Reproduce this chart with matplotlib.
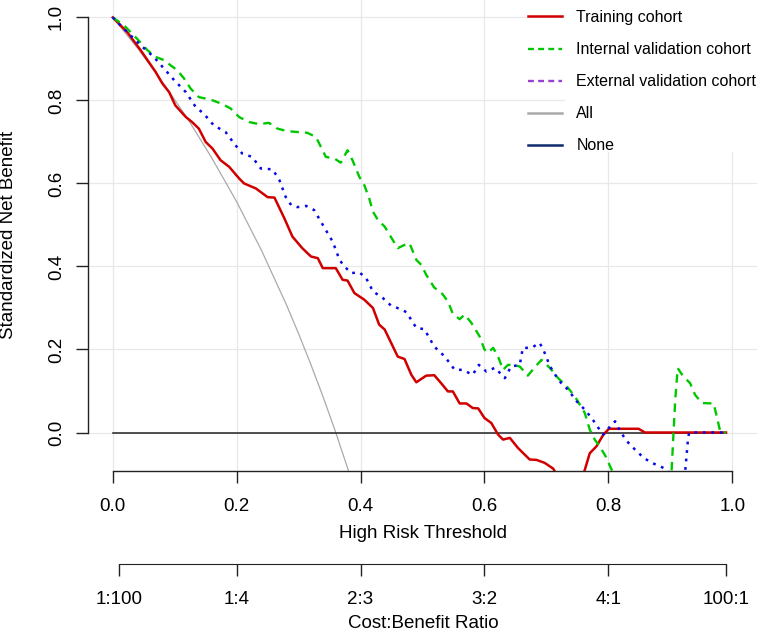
import matplotlib
matplotlib.use('Agg')
import matplotlib.pyplot as plt
from matplotlib.lines import Line2D
from matplotlib.patches import Rectangle

plt.rcParams['font.family'] = ['Liberation Sans', 'DejaVu Sans']

# Decision curve values (threshold, standardized net benefit)
train_t = [0, 0.023, 0.045, 0.069, 0.080, 0.091, 0.101, 0.118, 0.128, 0.139, 0.150, 0.161,
           0.174, 0.188, 0.204, 0.212, 0.231, 0.250, 0.261, 0.277, 0.290, 0.306, 0.320, 0.331,
           0.339, 0.360, 0.371, 0.379, 0.390, 0.406, 0.420, 0.430, 0.439, 0.460, 0.471, 0.482,
           0.490, 0.506, 0.519, 0.530, 0.541, 0.549, 0.560, 0.571, 0.581, 0.590, 0.600, 0.611,
           0.622, 0.630, 0.641, 0.654, 0.673, 0.684, 0.697, 0.711, 0.720, 0.730, 0.740, 0.750,
           0.761, 0.770, 0.781, 0.792, 0.801, 0.849, 0.859, 0.99]
train_v = [1, 0.965, 0.921, 0.869, 0.841, 0.820, 0.788, 0.760, 0.748, 0.732, 0.700, 0.684,
           0.656, 0.640, 0.612, 0.600, 0.588, 0.567, 0.566, 0.516, 0.472, 0.444, 0.424, 0.420,
           0.396, 0.396, 0.368, 0.366, 0.336, 0.320, 0.300, 0.260, 0.248, 0.183, 0.177, 0.139,
           0.121, 0.137, 0.138, 0.119, 0.099, 0.099, 0.070, 0.070, 0.059, 0.058, 0.035, 0.023,
           -0.005, -0.017, -0.013, -0.037, -0.065, -0.066, -0.073, -0.087, -0.11, -0.13, -0.14,
           -0.12, -0.095, -0.050, -0.033, -0.005, 0.009, 0.009, 0, 0]

internal_t = [0, 0.018, 0.039, 0.056, 0.069, 0.083, 0.093, 0.104, 0.115, 0.126, 0.139, 0.158,
              0.174, 0.190, 0.204, 0.220, 0.236, 0.252, 0.266, 0.282, 0.298, 0.314, 0.328, 0.336,
              0.344, 0.358, 0.368, 0.379, 0.387, 0.398, 0.406, 0.414, 0.420, 0.428, 0.439, 0.447,
              0.460, 0.471, 0.479, 0.490, 0.498, 0.506, 0.519, 0.530, 0.541, 0.549, 0.560, 0.568,
              0.579, 0.592, 0.600, 0.606, 0.614, 0.622, 0.630, 0.638, 0.646, 0.657, 0.670, 0.680,
              0.692, 0.706, 0.719, 0.733, 0.746, 0.754, 0.762, 0.770, 0.778, 0.786, 0.797, 0.805,
              0.83, 0.86, 0.89, 0.902, 0.908, 0.912, 0.921, 0.932, 0.940, 0.951, 0.970, 0.975,
              0.981, 0.99]
internal_v = [1, 0.981, 0.949, 0.921, 0.905, 0.897, 0.885, 0.873, 0.853, 0.828, 0.808, 0.802,
              0.793, 0.781, 0.760, 0.748, 0.743, 0.746, 0.732, 0.726, 0.724, 0.722, 0.712, 0.688,
              0.664, 0.660, 0.650, 0.680, 0.656, 0.616, 0.596, 0.564, 0.532, 0.512, 0.496, 0.476,
              0.444, 0.452, 0.456, 0.416, 0.404, 0.380, 0.349, 0.338, 0.316, 0.286, 0.273, 0.284,
              0.264, 0.232, 0.200, 0.192, 0.204, 0.183, 0.151, 0.163, 0.163, 0.159, 0.137, 0.155,
              0.175, 0.155, 0.131, 0.111, 0.087, 0.067, 0.047, 0.007, -0.017, -0.033, -0.061,
              -0.089, -0.12, -0.15, -0.13, -0.095, 0.079, 0.155, 0.135, 0.119, 0.091, 0.071,
              0.070, 0.039, 0, 0]

external_t = [0, 0.023, 0.045, 0.066, 0.085, 0.099, 0.118, 0.134, 0.147, 0.163, 0.182, 0.196,
              0.209, 0.225, 0.239, 0.258, 0.269, 0.279, 0.288, 0.298, 0.312, 0.325, 0.336, 0.347,
              0.355, 0.366, 0.374, 0.385, 0.398, 0.409, 0.420, 0.436, 0.449, 0.463, 0.474, 0.490,
              0.503, 0.519, 0.536, 0.552, 0.565, 0.581, 0.591, 0.603, 0.617, 0.633, 0.643, 0.657,
              0.662, 0.676, 0.689, 0.695, 0.706, 0.716, 0.724, 0.735, 0.749, 0.762, 0.773, 0.784,
              0.792, 0.803, 0.811, 0.819, 0.830, 0.843, 0.857, 0.870, 0.883, 0.894, 0.905, 0.915,
              0.924, 0.929, 0.931, 0.99]
external_v = [1, 0.965, 0.933, 0.905, 0.873, 0.849, 0.820, 0.784, 0.768, 0.740, 0.724, 0.696,
              0.672, 0.664, 0.636, 0.634, 0.608, 0.568, 0.548, 0.543, 0.546, 0.536, 0.508, 0.480,
              0.460, 0.416, 0.400, 0.384, 0.386, 0.372, 0.340, 0.324, 0.306, 0.298, 0.290, 0.252,
              0.249, 0.207, 0.183, 0.151, 0.151, 0.139, 0.163, 0.147, 0.156, 0.131, 0.159, 0.163,
              0.204, 0.204, 0.216, 0.200, 0.159, 0.135, 0.119, 0.103, 0.075, 0.055, 0.035, 0.011,
              -0.005, 0.015, 0.027, 0.003, -0.021, -0.041, -0.061, -0.073, -0.081, -0.089, -0.11,
              -0.11, -0.095, -0.009, 0, 0]

all_t = [0, 0.04, 0.08, 0.12, 0.16, 0.20, 0.24, 0.28, 0.30, 0.32, 0.34, 0.36, 0.38, 0.40]
all_v = [1, 0.926, 0.845, 0.758, 0.661, 0.556, 0.439, 0.309, 0.238, 0.163, 0.084, 0.0,
         -0.090, -0.185]

none_t = [0, 0.99]
none_v = [0, 0]

labels = ['Training cohort', 'Internal validation cohort', 'External validation cohort',
          'All', 'None']
ticks = [0.0, 0.2, 0.4, 0.6, 0.8, 1.0]
tick_labels = ['0.0', '0.2', '0.4', '0.6', '0.8', '1.0']
ratio_labels = ['1:100', '1:4', '2:3', '3:2', '4:1', '100:1']

W, H = 759, 633
fig = plt.figure(figsize=(W / 100, H / 100), dpi=100)
ax = fig.add_axes([88 / W, 1 - 470.7 / H, 669 / W, 470.7 / H])
ax.set_xlim(-0.04, 1.04)
ax.set_ylim(-0.092, 1.042)

ax.set_axisbelow(True)
ax.grid(True, color='#E8E8E8', lw=0.9)
# white legend background that hides the grid (as in the original)
ax.add_patch(Rectangle((0.73, 0.675), 0.32, 0.4, fc='white', ec='none', zorder=1))

ax.plot(all_t, all_v, color='#AAAAAA', lw=0.9, zorder=2)
ax.plot(none_t, none_v, color='#222222', lw=1.1, zorder=2)
ax.plot(train_t, train_v, color='#D00000', lw=1.8, zorder=3)
ax.plot(internal_t, internal_v, color='#00C800', lw=1.7, ls=(0, (3.6, 2.6)), zorder=3)
ax.plot(external_t, external_v, color='#0A0AE6', lw=1.8, ls=(0, (1.1, 2.3)), zorder=4)

handles = [
    Line2D([], [], color='#D00000', lw=1.8),
    Line2D([], [], color='#00C800', lw=1.7, ls=(0, (2.5, 1.8))),
    Line2D([], [], color='#9A40D0', lw=1.7, ls=(0, (2.5, 1.8))),
    Line2D([], [], color='#AAAAAA', lw=1.8),
    Line2D([], [], color='#0D2A6B', lw=1.8),
]
ax.legend(handles, labels, loc='upper left', bbox_to_anchor=(528 / W, 1 - 10 / H),
          bbox_transform=fig.transFigure, frameon=False, fontsize=11.5,
          handlelength=2.13, handletextpad=0.9, labelspacing=1.07,
          borderpad=0, borderaxespad=0)

for side in ['top', 'right']:
    ax.spines[side].set_visible(False)
for side in ['left', 'bottom']:
    ax.spines[side].set_color('#222222')
    ax.spines[side].set_linewidth(1.0)
    ax.spines[side].set_bounds(0, 1)

ax.set_xticks(ticks)
ax.set_xticklabels(tick_labels)
ax.set_yticks(ticks)
ax.set_yticklabels(tick_labels, rotation=90, va='center')
ax.tick_params(direction='out', length=8.3, width=1.0, color='#222222', labelsize=13.5)
ax.tick_params(axis='x', pad=11)
ax.tick_params(axis='y', pad=8.3)

# cost:benefit axis below
ax2 = fig.add_axes([88 / W, 1 - 564 / H, 669 / W, 1e-6])
ax2.set_xlim(-0.04, 1.04)
ax2.patch.set_visible(False)
ax2.yaxis.set_visible(False)
for side in ['top', 'right', 'left']:
    ax2.spines[side].set_visible(False)
ratio_pos = []
for r in ratio_labels:
    c, b = r.split(':')
    ratio_pos.append(float(c) / (float(c) + float(b)))
ax2.spines['bottom'].set_bounds(ratio_pos[0], ratio_pos[-1])
ax2.spines['bottom'].set_color('#222222')
ax2.set_xticks(ratio_pos)
ax2.set_xticklabels(ratio_labels)
ax2.tick_params(direction='out', length=8.3, width=1.0, color='#222222', labelsize=13.5, pad=11)

fig.text((114 + 732) / 2 / W, 1 - 534 / H, 'High Risk Threshold', ha='center', va='center',
         fontsize=13.5)
fig.text((114 + 732) / 2 / W, 1 - 623 / H, 'Cost:Benefit Ratio', ha='center', va='center',
         fontsize=13.5)
fig.text(8.3 / W, 1 - 235 / H, 'Standardized Net Benefit', rotation=90, ha='center',
         va='center', fontsize=13.5)

fig.savefig('out.png', dpi=100)
